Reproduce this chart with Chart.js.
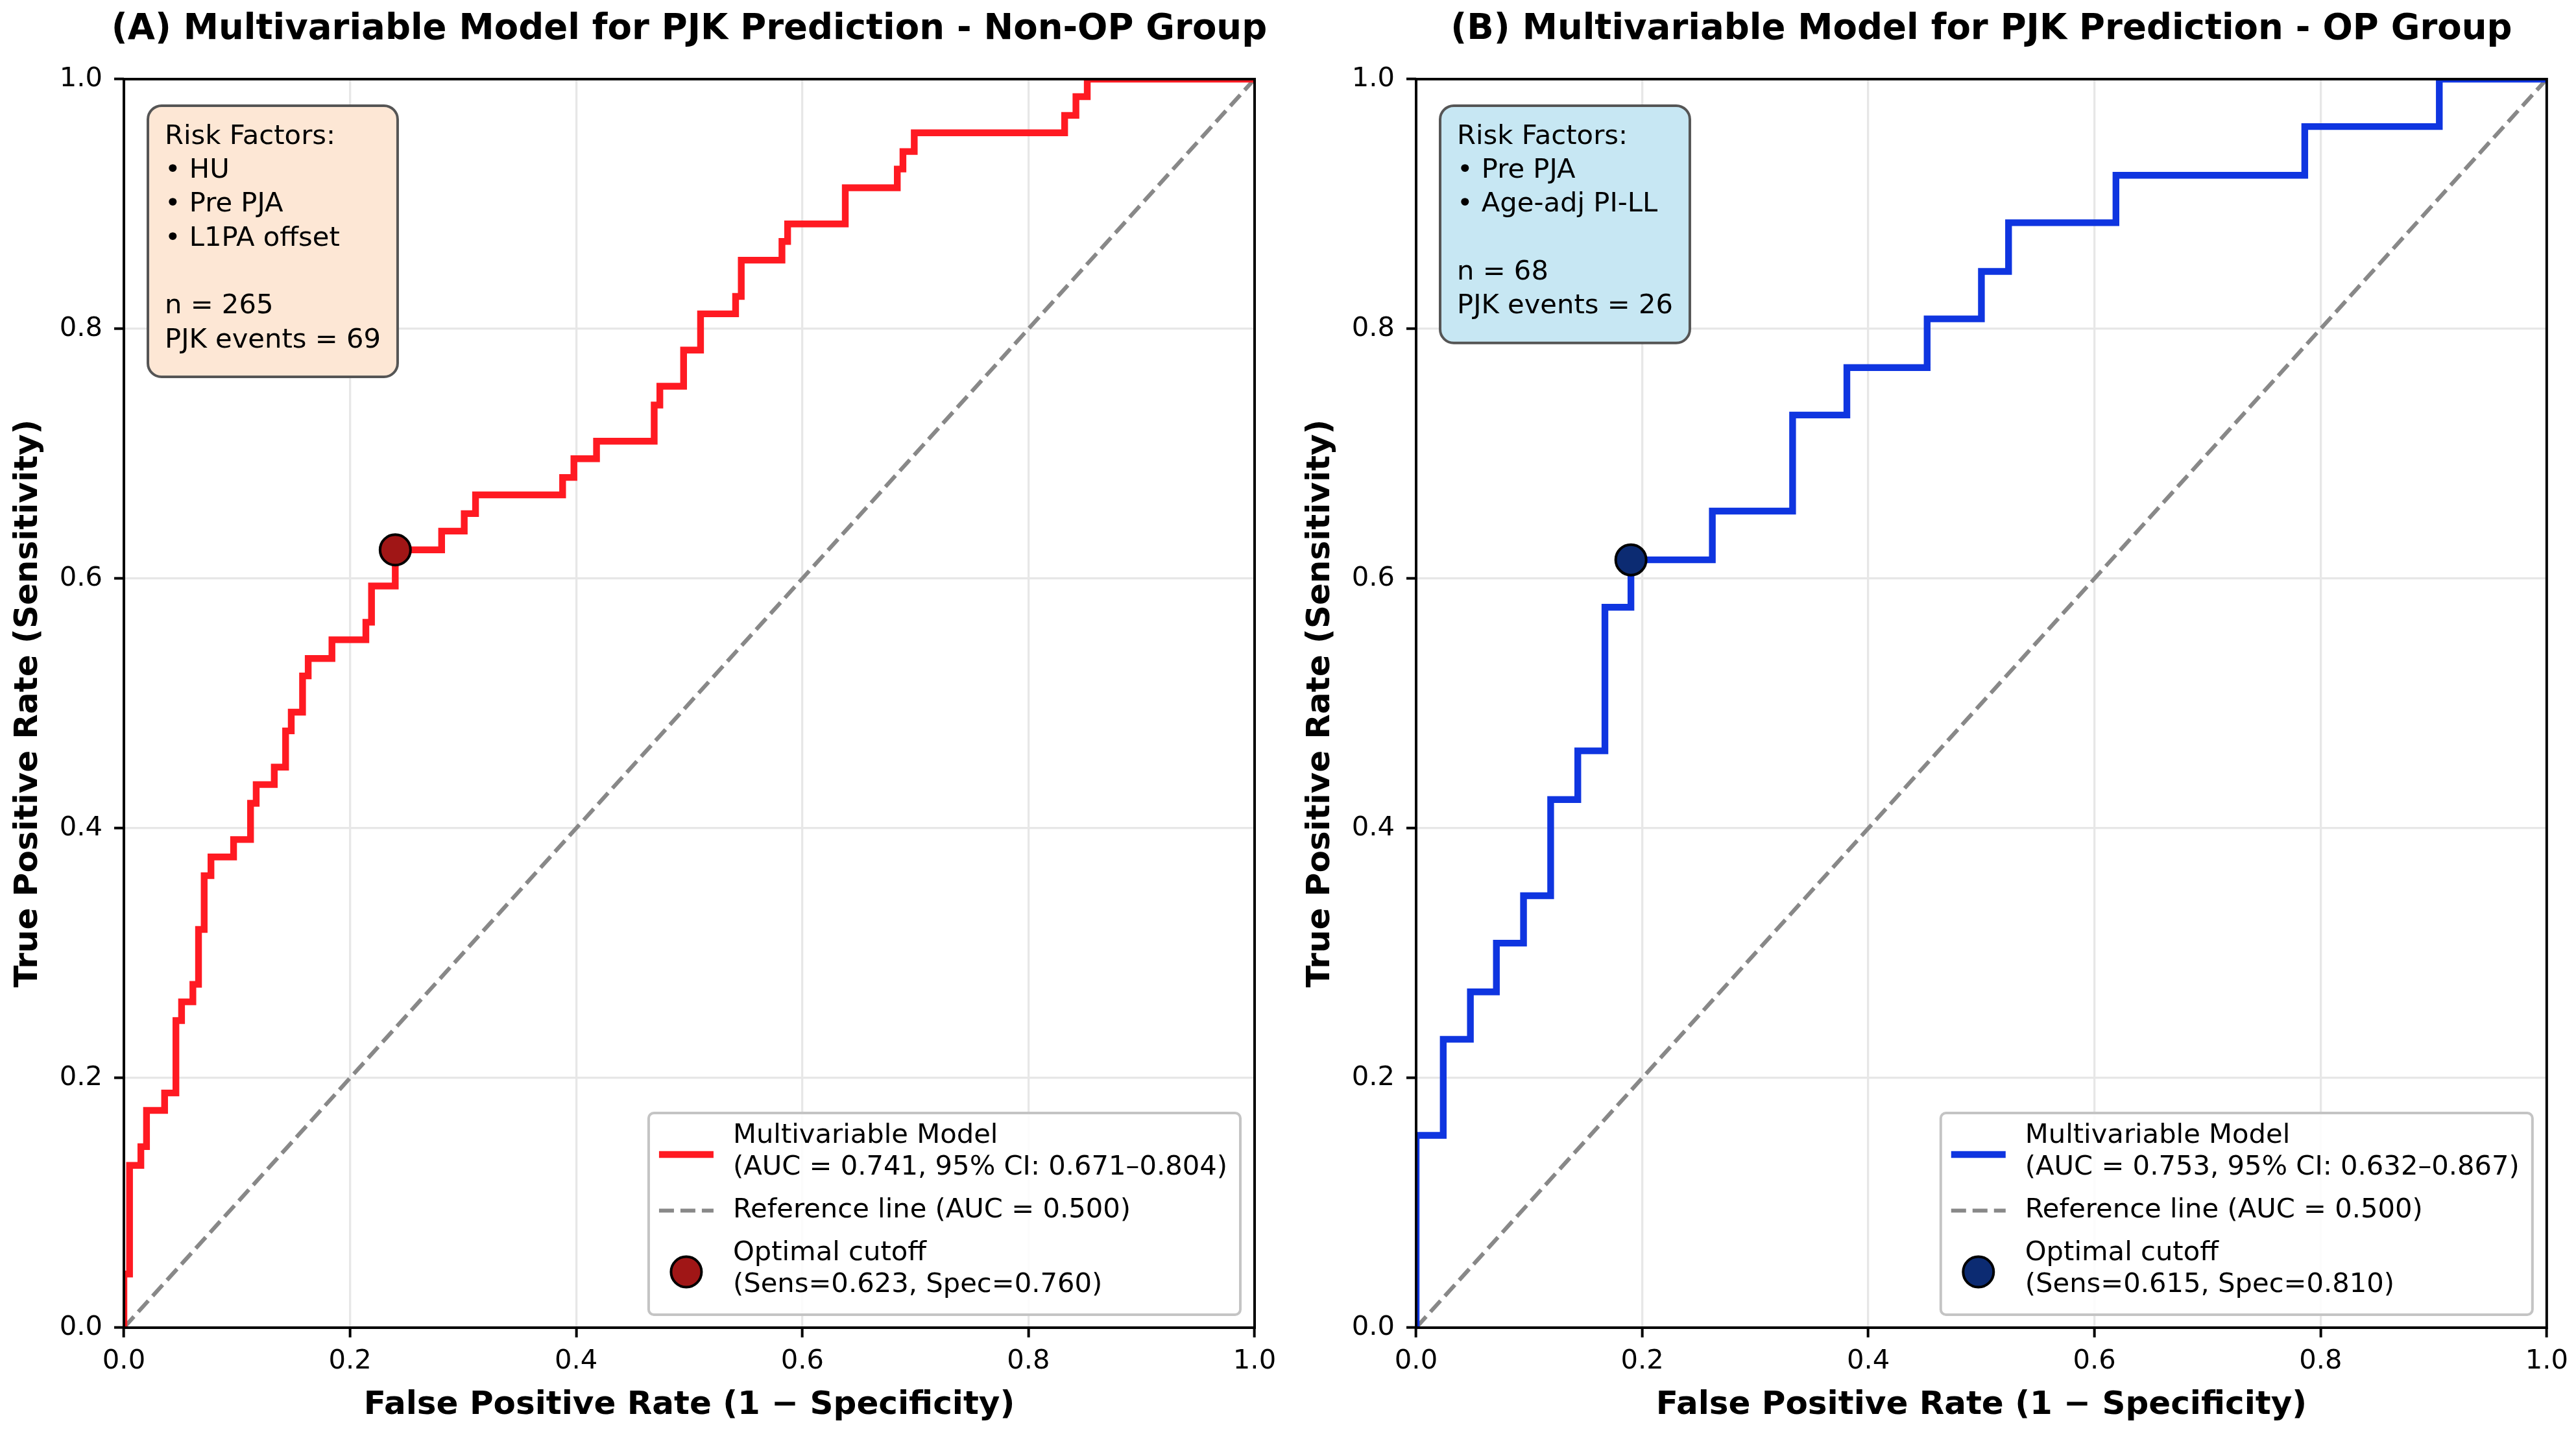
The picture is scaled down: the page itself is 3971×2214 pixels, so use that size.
<!DOCTYPE html>
<html>
<head>
<meta charset="utf-8">
<title>Multivariable Model for PJK Prediction</title>
<script src="https://cdn.jsdelivr.net/npm/chart.js@4.4.1/dist/chart.umd.min.js"></script>
<style>
  html, body { margin: 0; padding: 0; background: #fff; }
  #wrap { position: relative; width: 3971px; height: 2214px; }
  canvas { position: absolute; left: 0; top: 0; }
</style>
</head>
<body>
<div id="wrap">
  <canvas id="chartA" width="3971" height="2214"></canvas>
  <canvas id="chartB" width="3971" height="2214"></canvas>
</div>
<script>
const tickValues = [0, 0.2, 0.4, 0.6, 0.8, 1.0];
const tickLabels = ["0.0", "0.2", "0.4", "0.6", "0.8", "1.0"];

// (A) Non-OP group, step corners (fpr, tpr)
const fprA = [0, 0, 0.005, 0.015, 0.020, 0.036, 0.046, 0.051, 0.061, 0.066, 0.071, 0.077, 0.097, 0.112, 0.117, 0.133,
  0.143, 0.148, 0.158, 0.163, 0.184, 0.214, 0.219, 0.240, 0.281, 0.301, 0.311, 0.388, 0.398, 0.418, 0.469, 0.474,
  0.495, 0.510, 0.541, 0.546, 0.582, 0.587, 0.638, 0.684, 0.689, 0.699, 0.832, 0.842, 0.852, 1.0];
const tprA = [0, 0.043, 0.130, 0.145, 0.174, 0.188, 0.246, 0.261, 0.275, 0.319, 0.362, 0.377, 0.391, 0.420, 0.435, 0.449,
  0.478, 0.493, 0.522, 0.536, 0.551, 0.565, 0.594, 0.623, 0.638, 0.652, 0.667, 0.681, 0.696, 0.710, 0.739, 0.754,
  0.783, 0.812, 0.826, 0.855, 0.870, 0.884, 0.913, 0.928, 0.942, 0.957, 0.971, 0.986, 1.0, 1.0];
const cutoffA = [0.240, 0.623];
const infoA = ["Risk Factors:", "• HU", "• Pre PJA", "• L1PA offset", "", "n = 265", "PJK events = 69"];
const legendA = [
  ["Multivariable Model", "(AUC = 0.741, 95% CI: 0.671–0.804)"],
  ["Reference line (AUC = 0.500)"],
  ["Optimal cutoff", "(Sens=0.623, Spec=0.760)"]
];

// (B) OP group
const fprB = [0, 0, 0.024, 0.048, 0.071, 0.095, 0.119, 0.143, 0.167, 0.190, 0.262, 0.333, 0.381, 0.452, 0.500,
  0.524, 0.619, 0.786, 0.905, 1.0];
const tprB = [0, 0.154, 0.231, 0.269, 0.308, 0.346, 0.423, 0.462, 0.577, 0.615, 0.654, 0.731, 0.769, 0.808, 0.846,
  0.885, 0.923, 0.962, 1.0, 1.0];
const cutoffB = [0.190, 0.615];
const infoB = ["Risk Factors:", "• Pre PJA", "• Age-adj PI-LL", "", "n = 68", "PJK events = 26"];
const legendB = [
  ["Multivariable Model", "(AUC = 0.753, 95% CI: 0.632–0.867)"],
  ["Reference line (AUC = 0.500)"],
  ["Optimal cutoff", "(Sens=0.615, Spec=0.810)"]
];

const refLine = [0, 1];

const FONT = "'DejaVu Sans', sans-serif";
const W = 3971, H = 2214;
const PLOT_TOP = 122, PLOT_BOTTOM = 2047;
const Y_AXIS_W = 191;
const REF_DASH = [23, 10];
const ROC_W = 10.4;

function roundBox(ctx, x, y, w, h, r) {
  ctx.beginPath();
  ctx.moveTo(x + r, y);
  ctx.arcTo(x + w, y, x + w, y + h, r);
  ctx.arcTo(x + w, y + h, x, y + h, r);
  ctx.arcTo(x, y + h, x, y, r);
  ctx.arcTo(x, y, x + w, y, r);
  ctx.closePath();
}

function drawInfo(ctx, a, o) {
  ctx.font = "41.7px " + FONT;
  let tw = 0;
  o.info.forEach(t => tw = Math.max(tw, ctx.measureText(t).width));
  const lineH = 52.3;
  const x = a.left + 37, y = a.top + 41;
  const w = tw + 52, h = o.info.length * lineH + 52;
  roundBox(ctx, x, y, w, h, 21);
  ctx.fillStyle = o.infoFill;
  ctx.fill();
  ctx.lineWidth = 4;
  ctx.strokeStyle = "#555555";
  ctx.stroke();
  ctx.fillStyle = "#000";
  ctx.textAlign = "left";
  ctx.textBaseline = "middle";
  o.info.forEach((t, i) => ctx.fillText(t, x + 26, y + 48 + i * lineH));
}

function drawLegend(ctx, a, o) {
  ctx.font = "41.7px " + FONT;
  let tw = 0;
  o.legend.forEach(e => e.forEach(t => tw = Math.max(tw, ctx.measureText(t).width)));
  const lineH = 49, gap = 17, padTop = 11, padBottom = 21;
  let h = padTop + padBottom - gap;
  o.legend.forEach(e => h += e.length * lineH + gap);
  const w = 130 + tw + 20;
  const x = a.right - 22 - w, y = a.bottom - 20 - h;
  roundBox(ctx, x, y, w, h, 8);
  ctx.fillStyle = "rgba(255,255,255,0.85)";
  ctx.fill();
  ctx.lineWidth = 4;
  ctx.strokeStyle = "#c4c4c4";
  ctx.stroke();

  let cy = y + padTop;
  o.legend.forEach((e, k) => {
    const mid = cy + e.length * lineH / 2;
    const hy = e.length > 1 ? mid + 4 : mid;
    ctx.save();
    if (k === 0) {
      ctx.strokeStyle = o.lineColor;
      ctx.lineWidth = ROC_W;
      ctx.beginPath(); ctx.moveTo(x + 16, hy); ctx.lineTo(x + 100, hy); ctx.stroke();
    } else if (k === 1) {
      ctx.strokeStyle = "#888888";
      ctx.lineWidth = 6.2;
      ctx.setLineDash(REF_DASH);
      ctx.beginPath(); ctx.moveTo(x + 16, hy); ctx.lineTo(x + 100, hy); ctx.stroke();
    } else {
      ctx.beginPath(); ctx.arc(x + 58, hy, 23.5, 0, Math.PI * 2);
      ctx.fillStyle = o.markerColor; ctx.fill();
      ctx.lineWidth = 4; ctx.strokeStyle = "#000"; ctx.stroke();
    }
    ctx.restore();
    ctx.fillStyle = "#000";
    ctx.textAlign = "left";
    ctx.textBaseline = "middle";
    e.forEach((t, i) => ctx.fillText(t, x + 130, cy + lineH / 2 + i * lineH));
    cy += e.length * lineH + gap;
  });
}

const panelDeco = {
  id: "panelDeco",
  afterDraw(chart, args, o) {
    const ctx = chart.ctx;
    const a = chart.chartArea;
    ctx.save();
    ctx.strokeStyle = "#000";
    ctx.lineWidth = 4;
    ctx.strokeRect(a.left, a.top, a.right - a.left, a.bottom - a.top);

    ctx.fillStyle = "#000";
    ctx.font = "bold 54.5px " + FONT;
    ctx.textAlign = "center";
    ctx.textBaseline = "middle";
    ctx.fillText(o.title, (a.left + a.right) / 2, 46);

    drawInfo(ctx, a, o);
    drawLegend(ctx, a, o);
    ctx.restore();
  }
};

function makeAxis(title, isX, titlePad) {
  return {
    type: "linear",
    min: 0,
    max: 1,
    afterBuildTicks: ax => { ax.ticks = tickValues.map(v => ({ value: v })); },
    afterFit: ax => {
      if (isX) ax.height = H - PLOT_BOTTOM;
      else ax.width = Y_AXIS_W;
    },
    ticks: {
      callback: (v, i) => tickLabels[i],
      font: { family: FONT, size: 41.7 },
      color: "#000",
      padding: isX ? 12 : 18,
      maxRotation: 0,
      autoSkip: false
    },
    grid: {
      color: "#e7e7e7",
      lineWidth: 3.3,
      drawTicks: true,
      tickLength: 15,
      tickColor: "#000",
      tickWidth: 4
    },
    border: { display: false },
    title: {
      display: true,
      text: title,
      color: "#000",
      font: { family: FONT, size: 50, weight: "bold" },
      padding: titlePad
    }
  };
}

function makeChart(id, p) {
  const pts = p.fpr.map((x, i) => ({ x: x, y: p.tpr[i] }));
  return new Chart(document.getElementById(id), {
    type: "scatter",
    data: {
      datasets: [
        {
          label: "Optimal cutoff",
          data: [{ x: p.cutoff[0], y: p.cutoff[1] }],
          pointRadius: 23.5,
          pointBackgroundColor: p.markerColor,
          pointBorderColor: "#000",
          pointBorderWidth: 4,
          clip: false
        },
        {
          label: "Multivariable Model",
          data: pts,
          showLine: true,
          stepped: "before",
          borderColor: p.lineColor,
          borderWidth: ROC_W,
          pointRadius: 0,
          clip: 0
        },
        {
          label: "Reference line",
          data: refLine.map(v => ({ x: v, y: v })),
          showLine: true,
          borderColor: "#888888",
          borderWidth: 6.2,
          borderDash: REF_DASH,
          pointRadius: 0,
          clip: 0
        }
      ]
    },
    options: {
      responsive: false,
      animation: false,
      devicePixelRatio: 1,
      layout: { padding: { left: p.left - Y_AXIS_W, right: W - p.right, top: PLOT_TOP, bottom: 0 } },
      plugins: {
        legend: { display: false },
        tooltip: { enabled: false },
        panelDeco: {
          title: p.title,
          info: p.info,
          infoFill: p.infoFill,
          legend: p.legend,
          lineColor: p.lineColor,
          markerColor: p.markerColor
        }
      },
      scales: {
        x: makeAxis("False Positive Rate (1 − Specificity)", true, { top: 0, bottom: 17 }),
        y: makeAxis("True Positive Rate (Sensitivity)", false, { top: 14, bottom: 0 })
      }
    },
    plugins: [panelDeco]
  });
}

makeChart("chartA", {
  left: 191, right: 1934,
  fpr: fprA, tpr: tprA, cutoff: cutoffA,
  title: "(A) Multivariable Model for PJK Prediction - Non-OP Group",
  info: infoA, infoFill: "#fde7d5", legend: legendA,
  lineColor: "#ff1a22", markerColor: "#a01616"
});

makeChart("chartB", {
  left: 2183, right: 3926,
  fpr: fprB, tpr: tprB, cutoff: cutoffB,
  title: "(B) Multivariable Model for PJK Prediction - OP Group",
  info: infoB, infoFill: "#c7e7f3", legend: legendB,
  lineColor: "#0f35e0", markerColor: "#0c2b72"
});
</script>
</body>
</html>
